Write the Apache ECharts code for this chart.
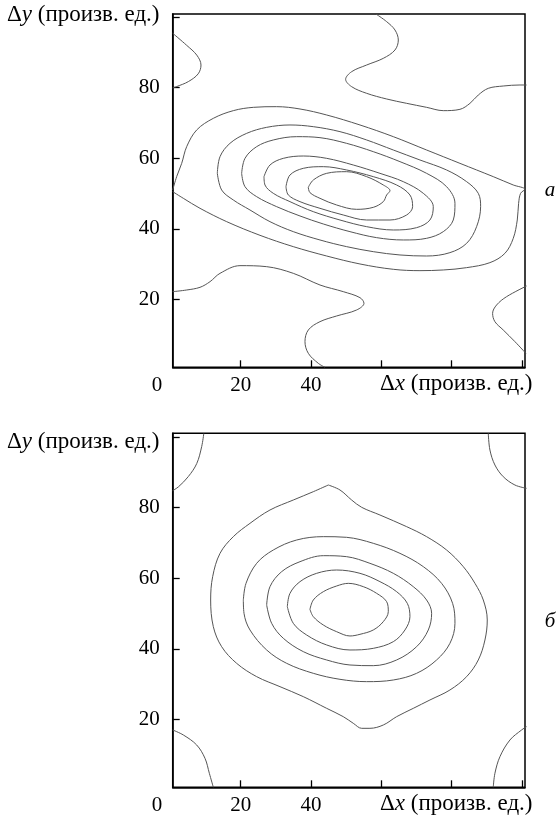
<!DOCTYPE html>
<html>
<head>
<meta charset="utf-8">
<script src="https://cdn.jsdelivr.net/npm/echarts@6/dist/echarts.min.js"></script>
<style>
html,body{margin:0;padding:0;background:#fff;}
#chart{width:557px;height:821px;}
</style>
</head>
<body>
<div id="chart"></div>
<script>
// ---------- tick values ----------
const tickValues = [20, 40, 60, 80, 100];
const yTickLabels = [20, 40, 60, 80];
const xTickLabels = [20, 40];

// ---------- panel a: contour lines [Δx, Δy] ----------
const aCornerTL = [[0.64,95.4],[4.6,92.0],[7.5,89.2],[8.7,86.4],[7.9,83.9],[5.1,81.7],[1.8,80.3],[0.64,79.9]];
const aTopMid = [[58.49,100.85],[61.53,98.68],[63.90,96.32],[64.85,93.48],[63.90,90.65],[60.58,88.29],[55.84,86.40],[51.57,84.51],[49.86,82.34],[51.57,80.26],[55.84,78.38],[61.53,76.77],[67.22,75.54],[72.90,74.41],[77.65,73.47],[82.39,73.84],[85.24,75.54],[87.61,77.90],[90.45,79.79],[94.71,80.45],[99.46,80.74],[101.35,80.74]];
const aLevel1 = [[0.64,50.99],[1.78,54.77],[3.21,58.54],[4.63,63.27],[7.47,67.99],[12.21,71.29],[17.90,73.47],[23.59,74.41],[30.23,74.60],[36.87,73.94],[44.46,72.24],[53.94,69.41],[63.43,66.10],[72.90,62.32],[82.39,58.54],[91.87,54.77],[97.56,52.41],[100.88,51.18],[99.65,50.05],[99.08,47.21],[98.70,42.49],[97.56,37.30],[95.19,33.05],[90.92,30.41],[84.29,28.99],[77.65,28.33],[71.01,28.14],[63.43,28.52],[53.94,30.03],[44.46,32.29],[34.97,34.94],[25.49,38.15],[16.01,42.02],[8.42,45.80],[3.68,48.63],[0.64,50.52]];
const aLevel2 = [[13.35,55.71],[14.11,60.43],[16.95,64.21],[21.70,67.04],[27.39,68.74],[34.02,69.41],[40.66,68.93],[48.25,67.52],[55.84,65.16],[63.43,62.32],[71.01,59.49],[78.59,56.66],[84.29,53.35],[87.61,50.05],[88.27,46.27],[87.13,40.60],[84.29,35.88],[79.54,33.24],[72.90,32.29],[65.32,32.58],[57.73,33.52],[50.14,34.94],[42.56,36.83],[34.97,39.19],[28.33,42.02],[22.64,45.33],[17.90,48.16],[14.58,50.99],[13.35,55.71]];
const aLevel3 = [[20.27,55.71],[21.22,59.96],[24.54,63.27],[29.28,65.16],[35.92,66.10],[42.56,65.82],[50.14,64.21],[57.73,61.85],[65.32,59.02],[72.90,55.71],[78.59,51.93],[80.97,47.21],[80.49,42.49],[77.65,39.19],[72.90,37.30],[66.27,36.83],[58.68,37.49],[51.09,39.19],[43.51,41.36],[36.87,43.63],[30.23,46.27],[24.54,49.10],[21.22,51.93],[20.27,55.71]];
const aLevel4 = [[26.63,54.77],[28.33,58.07],[32.13,59.96],[37.82,60.62],[44.46,59.96],[52.04,58.07],[59.63,55.71],[66.27,53.35],[71.96,50.05],[74.80,46.27],[73.85,42.49],[70.06,40.32],[63.43,39.66],[55.84,40.60],[48.25,42.49],[40.66,44.85],[34.02,47.69],[29.28,50.05],[26.91,52.41],[26.63,54.77]];
const aLevel5 = [[32.89,51.93],[34.02,55.24],[37.82,57.13],[43.51,57.60],[50.14,56.66],[57.73,54.77],[64.37,52.41],[68.16,49.58],[68.92,46.27],[67.22,43.91],[62.48,42.49],[55.84,42.49],[49.19,43.91],[42.56,45.80],[36.87,47.69],[33.55,49.58],[32.89,51.93]];
const aLevel6 = [[39.24,51.75],[40.66,53.82],[44.46,55.71],[50.14,56.18],[55.84,54.77],[60.58,52.41],[62.48,50.80],[61.53,49.58],[60.58,47.69],[57.73,46.08],[52.99,45.51],[47.30,46.74],[42.56,48.63],[39.71,50.24],[39.24,51.75]];
const aLowLeft = [[0.64,22.19],[4.63,22.66],[8.42,23.42],[11.27,25.02],[14.11,27.38],[19.80,29.56],[27.39,29.27],[34.97,27.38],[42.56,24.08],[49.19,22.19],[53.94,20.49],[55.08,18.89],[52.99,17.00],[47.30,15.30],[42.56,13.69],[39.24,11.33],[38.29,8.03],[39.24,4.72],[42.08,1.89],[43.98,0.76]];
const aLowRight = [[101.35,23.80],[95.66,20.77],[92.82,18.41],[91.68,16.05],[92.34,13.69],[94.71,11.33],[98.03,8.03],[101.16,4.72]];

// ---------- panel б: contour lines [Δx, Δy] ----------
const bCornerTL = [[9.5,101.0],[8.9,97.3],[7.5,92.5],[5.1,88.8],[2.3,85.9],[0.64,84.8]];
const bCornerTR = [[90.45,101.04],[90.92,96.32],[92.34,92.07],[94.71,88.76],[98.03,86.40],[101.35,85.46]];
const bCornerBL = [[0.64,17.00],[3.68,15.58],[7.47,12.75],[9.84,8.97],[11.08,4.72],[12.21,0.76]];
const bCornerBR = [[91.87,0.76],[92.34,4.72],[93.77,9.44],[96.61,14.16],[99.93,17.00],[101.35,17.94]];
const bLevel1 = [[44.93,86.40],[48.25,84.99],[51.57,82.15],[54.42,80.08],[59.63,77.90],[67.22,74.60],[72.90,71.77],[78.59,67.99],[83.34,63.27],[86.66,58.54],[89.03,53.82],[90.16,48.16],[89.50,42.49],[87.61,36.83],[84.29,32.11],[79.54,28.33],[73.85,25.50],[69.11,23.13],[64.37,20.77],[60.58,18.41],[56.78,17.47],[54.42,17.47],[52.04,18.89],[49.19,20.77],[44.46,23.13],[37.82,26.44],[31.18,29.27],[24.54,32.11],[18.85,35.88],[14.58,40.60],[12.21,46.27],[11.45,53.82],[12.02,60.43],[14.11,67.04],[17.90,71.77],[22.64,75.54],[28.33,79.32],[34.97,82.15],[40.66,84.51],[44.93,86.40]];
const bLevel2 = [[20.75,53.82],[21.51,58.54],[24.54,64.21],[29.28,67.99],[35.92,70.82],[43.51,71.77],[50.14,71.58],[57.73,69.88],[65.32,67.04],[71.96,63.27],[77.17,58.54],[80.30,52.88],[80.97,47.21],[79.54,41.55],[75.75,36.83],[70.06,33.05],[63.43,31.16],[55.84,30.69],[48.25,31.35],[40.66,33.05],[33.08,35.88],[27.39,39.66],[22.64,45.33],[20.94,50.05],[20.75,53.82]];
const bLevel3 = [[27.39,52.41],[28.33,57.60],[31.65,61.85],[36.87,64.68],[43.51,66.38],[50.14,66.10],[56.78,64.21],[63.43,61.38],[69.11,57.60],[72.90,53.82],[74.33,50.05],[73.38,45.33],[70.06,40.60],[64.37,36.83],[57.73,35.22],[51.09,35.41],[44.46,36.83],[37.82,39.19],[32.13,42.97],[28.81,47.21],[27.39,52.41]];
const bLevel4 = [[33.27,51.94],[34.02,55.71],[36.87,59.02],[41.61,61.38],[47.30,62.32],[53.94,61.38],[59.63,59.02],[64.37,56.18],[67.41,52.88],[68.16,49.10],[66.74,45.33],[63.43,42.02],[57.73,40.13],[51.09,39.66],[44.46,41.08],[38.76,43.91],[34.97,47.21],[33.27,51.94]];
const bLevel5 = [[39.71,51.18],[40.66,53.82],[43.51,56.18],[47.30,57.79],[50.62,58.54],[54.89,57.60],[58.68,55.71],[61.53,53.35],[62.00,50.52],[60.58,47.69],[57.73,45.33],[53.94,44.10],[51.09,43.63],[47.30,44.85],[43.51,46.74],[40.66,49.10],[39.71,51.18]];

const panelA = [aCornerTL, aTopMid, aLevel1, aLevel2, aLevel3, aLevel4, aLevel5, aLevel6, aLowLeft, aLowRight];
const panelB = [bCornerTL, bCornerTR, bCornerBL, bCornerBR, bLevel1, bLevel2, bLevel3, bLevel4, bLevel5];

// ---------- styling ----------
const FONT = 'Liberation Serif';
const FS = 21;
const TFS = 23;
const X_MIN = 0.65, X_MAX = 100.9, Y_MIN = 0.76;

function makeX(idx) {
  return {
    type: 'value', gridIndex: idx, min: X_MIN, max: X_MAX,
    axisLine: {show: true, lineStyle: {color: '#000', width: 1.5}},
    axisTick: {show: true, inside: true, length: 7, customValues: tickValues, lineStyle: {color: '#000', width: 1.3}},
    axisLabel: {show: true, customValues: xTickLabels, fontFamily: FONT, fontSize: FS, color: '#000', margin: 8},
    splitLine: {show: false}
  };
}
function makeY(idx, ymax) {
  return {
    type: 'value', gridIndex: idx, min: Y_MIN, max: ymax,
    axisLine: {show: true, lineStyle: {color: '#000', width: 1.5}},
    axisTick: {show: true, inside: true, length: 7, customValues: tickValues, lineStyle: {color: '#000', width: 1.3}},
    axisLabel: {show: true, customValues: yTickLabels, fontFamily: FONT, fontSize: FS, color: '#000', margin: 13},
    splitLine: {show: false}
  };
}
function contourSeries(list, idx) {
  return list.map(function (pts) {
    return {
      type: 'line', xAxisIndex: idx, yAxisIndex: idx, data: pts,
      smooth: 0.35, showSymbol: false, symbol: 'none', silent: true, clip: true,
      lineStyle: {color: '#555', width: 1}
    };
  });
}
function axisTitle(x, y, v) {
  return {
    type: 'text', left: x, top: y - 13, silent: true,
    style: {
      text: '{n|Δ}{i|' + v + '}{n| (произв. ед.)}',
      rich: {
        n: {fontFamily: FONT, fontSize: TFS, fill: '#000'},
        i: {fontFamily: FONT, fontSize: TFS, fontStyle: 'italic', fill: '#000'}
      }
    }
  };
}
function plainText(x, y, t, italic) {
  return {
    type: 'text', x: x, y: y, silent: true,
    style: {text: t, fontFamily: FONT, fontSize: FS, fontStyle: italic ? 'italic' : 'normal', fill: '#000', align: 'center', verticalAlign: 'middle'}
  };
}

const chart = echarts.init(document.getElementById('chart'), null, {renderer: 'canvas'});
chart.setOption({
  animation: false,
  backgroundColor: '#fff',
  grid: [
    {left: 172.7, top: 14, width: 352.3, height: 353.3, show: true, borderColor: '#000', borderWidth: 1.5, backgroundColor: 'transparent'},
    {left: 172.7, top: 433.3, width: 352.3, height: 354, show: true, borderColor: '#000', borderWidth: 1.5, backgroundColor: 'transparent'}
  ],
  xAxis: [makeX(0), makeX(1)],
  yAxis: [makeY(0, 100.85), makeY(1, 101.05)],
  series: contourSeries(panelA, 0).concat(contourSeries(panelB, 1)),
  graphic: [
    axisTitle(7, 16, 'y'),
    axisTitle(7, 443, 'y'),
    axisTitle(380, 385, 'x'),
    axisTitle(380, 805, 'x'),
    plainText(157, 385, '0', false),
    plainText(157, 805, '0', false),
    plainText(550, 190, 'a', true),
    plainText(550, 621.5, 'б', true)
  ]
});
</script>
</body>
</html>
